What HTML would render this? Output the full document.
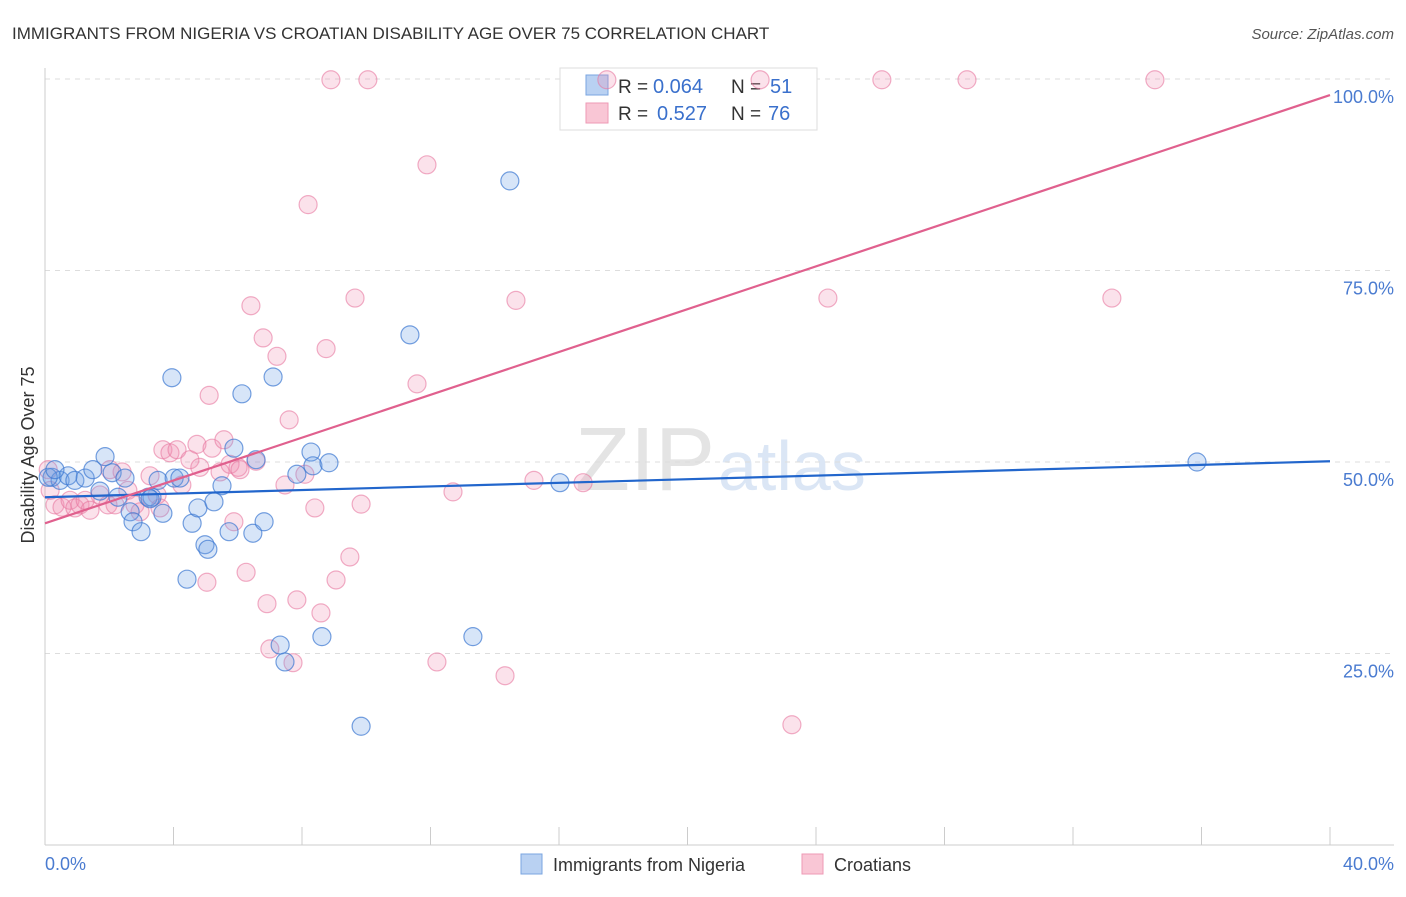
<!DOCTYPE html>
<html><head><meta charset="utf-8"><style>
body{margin:0;background:#fff;font-family:"Liberation Sans",sans-serif;}
svg text{font-family:"Liberation Sans",sans-serif;}
</style></head><body>
<svg id="chart" width="1406" height="892" xmlns="http://www.w3.org/2000/svg">
<text x="12" y="39" font-size="17" fill="#333">IMMIGRANTS FROM NIGERIA VS CROATIAN DISABILITY AGE OVER 75 CORRELATION CHART</text>
<text x="1394" y="39" font-size="15" fill="#555" font-style="italic" text-anchor="end">Source: ZipAtlas.com</text>
<text x="715" y="490" font-size="90" fill="#e4e4e4" text-anchor="end" font-family="Liberation Serif">ZIP</text>
<text x="718" y="490" font-size="70" fill="#dbe6f5">atlas</text>
<g id="grid"></g>
<g id="axes"></g>
<g>
<rect x="560" y="68" width="257" height="62" fill="#fff" stroke="#ddd"/>
<rect x="586" y="75" width="22" height="20" fill="#b9d1f2" stroke="#7aa5e0"/>
<rect x="586" y="103" width="22" height="20" fill="#f9c6d5" stroke="#ee9ab5"/>
<text x="618" y="93" font-size="19" fill="#333">R =</text>
<text x="653" y="93" font-size="20" fill="#3a70cc">0.064</text>
<text x="731" y="93" font-size="19" fill="#333">N =</text>
<text x="770" y="93" font-size="20" fill="#3a70cc">51</text>
<text x="618" y="120" font-size="19" fill="#333">R =</text>
<text x="657" y="120" font-size="20" fill="#3a70cc">0.527</text>
<text x="731" y="120" font-size="19" fill="#333">N =</text>
<text x="768" y="120" font-size="20" fill="#3a70cc">76</text>
</g>
<g id="pts"></g>
<g id="lines"></g>
<text transform="translate(34,455) rotate(-90)" font-size="18" fill="#333" text-anchor="middle">Disability Age Over 75</text>
<text x="45" y="870" font-size="18" fill="#4a7bd0">0.0%</text>
<text x="1394" y="870" font-size="18" fill="#4a7bd0" text-anchor="end">40.0%</text>
<g>
<rect x="521" y="854" width="21" height="20" fill="#b9d1f2" stroke="#7aa5e0"/>
<text x="553" y="871" font-size="18" fill="#333">Immigrants from Nigeria</text>
<rect x="802" y="854" width="21" height="20" fill="#f9c6d5" stroke="#ee9ab5"/>
<text x="834" y="871" font-size="18" fill="#333">Croatians</text>
</g>
</svg>
<script>
const yTicks=[25,50,75,100];
const yTickLabels=["25.0%","50.0%","75.0%","100.0%"];
const xTicks=[0,4,8,12,16,20,24,28,32,36,40];
const blueX=[0.22,0.47,0.72,0.93,1.25,1.49,1.71,1.87,2.09,2.27,2.49,2.65,2.74,2.99,3.21,3.33,3.52,3.67,3.95,4.02,4.20,4.42,4.58,4.76,4.98,5.07,5.26,5.51,5.73,5.88,6.13,6.47,6.57,6.82,7.10,7.32,7.47,7.84,8.28,8.34,8.62,8.84,9.84,11.36,13.32,14.47,16.03,35.86,0.1,0.31,3.27];
const blueY=[48.0,47.6,48.2,47.6,47.9,49.0,46.2,50.7,48.6,45.4,47.9,43.5,42.2,40.9,45.4,45.4,47.6,43.3,61.0,47.9,47.9,34.7,42.0,44.0,39.2,38.6,44.8,46.9,40.9,51.8,58.9,40.7,50.3,42.2,61.1,26.1,23.9,48.4,51.3,49.5,27.2,49.9,15.5,66.6,27.2,86.7,47.3,50.0,48.0,49.0,45.2];
const pinkX=[0.16,0.31,0.53,0.78,0.93,1.09,1.25,1.71,1.96,2.18,2.40,2.58,2.80,2.96,3.27,3.49,3.67,3.89,4.11,4.26,4.51,4.73,5.04,5.11,5.20,5.45,5.57,5.76,5.88,6.01,6.26,6.41,6.57,6.79,6.91,7.00,7.22,7.47,7.60,7.72,8.09,8.19,8.40,8.75,8.90,9.06,8.59,9.49,9.65,9.84,10.05,11.58,11.89,12.20,12.70,14.32,14.66,15.22,16.75,17.49,22.26,23.25,24.37,26.05,28.70,33.21,34.55,7.84,4.82,2.02,0.1,1.40,3.58,6.07];
const pinkY=[46.3,44.4,44.1,45.0,44.0,44.4,45.0,45.7,44.4,44.4,48.7,46.3,44.4,43.5,48.2,45.7,51.6,51.2,51.6,47.0,50.3,52.3,34.3,58.7,51.8,48.7,52.9,49.7,42.2,49.3,35.6,70.4,50.1,66.2,31.5,25.6,63.8,47.0,55.5,23.8,48.4,83.6,44.0,64.8,99.9,34.6,30.3,37.6,71.4,44.5,99.9,60.2,88.8,23.9,46.1,22.1,71.1,47.6,47.3,99.9,99.9,15.7,71.4,99.9,99.9,71.4,99.9,32.0,49.3,49.0,49.0,43.7,44.0,49.0];
const blueTrend=[45.4,50.1];
const pinkTrend=[42.0,97.9];
const X0=45,X1=1330,Y0=845,PX=(X1-X0)/40,PY=7.66;
const sx=v=>X0+v*PX, sy=v=>Y0-v*PY;
const NS="http://www.w3.org/2000/svg";
function mk(tag,attrs,parent){const e=document.createElementNS(NS,tag);for(const k in attrs)e.setAttribute(k,attrs[k]);parent.appendChild(e);return e;}
const grid=document.getElementById('grid'),axes=document.getElementById('axes'),pts=document.getElementById('pts'),lines=document.getElementById('lines');
yTicks.forEach((t,i)=>{
 const l=mk('line',{x1:X0,x2:1394,y1:sy(t),y2:sy(t),stroke:'#ddd','stroke-dasharray':'5,5'},grid);
 
 
 const tx=mk('text',{x:1394,y:sy(t)+24,'font-size':18,fill:'#4a7bd0','text-anchor':'end'},grid);
 tx.textContent=yTickLabels[i];
 
 
});
const ya=mk('line',{x1:X0,x2:X0,y1:68,y2:Y0,stroke:'#ccc'},axes);


const xa=mk('line',{x1:X0,x2:1394,y1:Y0,y2:Y0,stroke:'#ccc'},axes);


xTicks.forEach(t=>{
 const l=mk('line',{x1:sx(t),x2:sx(t),y1:Y0,y2:Y0-18,stroke:'#ccc'},axes);
 
 
});
pinkX.forEach((x,i)=>{
 const c=mk('circle',{cx:sx(x),cy:sy(pinkY[i]),r:9,fill:'rgba(240,140,175,0.25)',stroke:'rgba(232,120,160,0.6)','stroke-width':1.2},pts);
 
 
});
blueX.forEach((x,i)=>{
 const c=mk('circle',{cx:sx(x),cy:sy(blueY[i]),r:9,fill:'rgba(110,160,230,0.28)',stroke:'rgba(60,120,210,0.7)','stroke-width':1.2},pts);
 
 
});
const bl=mk('line',{x1:sx(0),y1:sy(blueTrend[0]),x2:sx(40),y2:sy(blueTrend[1]),stroke:'#2266cc','stroke-width':2.2},lines);


const pl=mk('line',{x1:sx(0),y1:sy(pinkTrend[0]),x2:sx(40),y2:sy(pinkTrend[1]),stroke:'#e0608e','stroke-width':2.2},lines);


</script>
</body></html>
